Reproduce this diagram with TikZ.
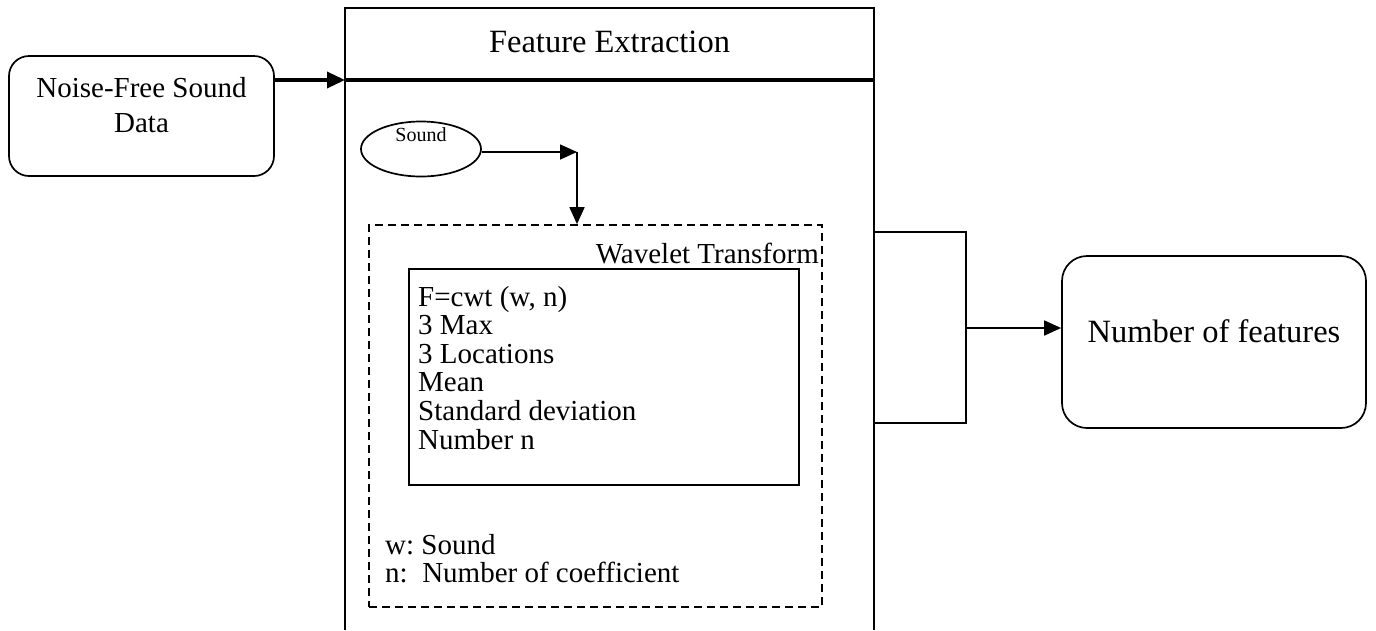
\documentclass[tikz,border=0pt]{standalone}
\usepackage{fontspec}
\setmainfont{Liberation Serif}
\usetikzlibrary{arrows.meta,shapes.geometric}
\frenchspacing
\begin{document}
\begin{tikzpicture}[x=1pt,y=-1pt,
  ln/.style={line width=1.7pt},
  roundbox/.style={draw, ln, rounded corners=20pt, inner sep=0pt},
  plainbox/.style={draw, ln, inner sep=0pt},
  txt/.style={font=\fontsize{29}{33}\selectfont, inner sep=0pt},
  bigtxt/.style={font=\fontsize{32.5}{36}\selectfont, inner sep=0pt},
  smalltxt/.style={font=\fontsize{20}{24}\selectfont, inner sep=0pt},
  arr/.style={ln, -{Triangle[length=17pt,width=15pt]}},
  heavyarr/.style={line width=3.5pt, -{Triangle[length=18pt,width=16pt]}},
]
\useasboundingbox (0,0) rectangle (1376,630);

% input block
\node[roundbox, minimum width=265pt, minimum height=120pt] (src) at (141.5,116) {};
\node[txt, anchor=base] (srcA) at (141.5,97) {Noise-Free Sound};
\node[txt, anchor=base] (srcB) at (141.5,132) {Data};

% feature extraction frame (open at the bottom)
\coordinate (feBL) at (345,630);
\coordinate (feTL) at (345,8);
\coordinate (feTR) at (874,8);
\coordinate (feBR) at (874,630);
\draw[ln] (feBL) -- (feTL) -- (feTR) -- (feBR);
\node[bigtxt, anchor=base] (fetitle) at (609.5,52) {Feature Extraction};
\coordinate (sepL) at (345,80);
\coordinate (sepR) at (874,80);
\draw[line width=3.5pt] (sepL) -- (sepR);
\draw[heavyarr] (src.east |- sepL) -- (sepL);

% sound source
\node[draw, ln, ellipse, minimum width=120pt, minimum height=55pt, inner sep=0pt] (snd) at (421,149) {};
\node[smalltxt, anchor=base] (sndt) at (421,141) {Sound};
\coordinate (bend) at (577,152);

% wavelet transform block
\node[draw, ln, dash pattern=on 8pt off 5pt, minimum width=453pt, minimum height=382pt, inner sep=0pt] (wt) at (595.5,416) {};
\node[txt, anchor=base east] (wtt) at (819,263) {Wavelet Transform};
\draw[arr] (snd.east |- bend) -- (bend);
\draw[arr] (bend) -- (bend |- wt.north);

\node[plainbox, minimum width=390pt, minimum height=216pt] (calc) at (604,377) {};
\node[txt, anchor=base west] (c1) at (418,306) {F=cwt (w, n)};
\node[txt, anchor=base west] (c2) at (418,334.6) {3 Max};
\node[txt, anchor=base west] (c3) at (418,363.2) {3 Locations};
\node[txt, anchor=base west] (c4) at (418,391.8) {Mean};
\node[txt, anchor=base west] (c5) at (418,420.4) {Standard deviation};
\node[txt, anchor=base west] (c6) at (418,449) {Number n};

\node[txt, anchor=base west] (k1) at (385,554) {w: Sound};
\node[txt, anchor=base west] (k2) at (385,582) {n:\ \ Number of coefficient};

% output collector and result
\coordinate (brT0) at (874,232);
\coordinate (brT) at (966,232);
\coordinate (brB) at (966,423);
\coordinate (brB0) at (874,423);
\draw[ln] (brT0) -- (brT) -- (brB) -- (brB0);
\coordinate (brM) at (966,328);
\node[roundbox, rounded corners=25pt, minimum width=304pt, minimum height=172pt] (out) at (1214,342) {};
\node[bigtxt, anchor=base] (outt) at (1214,342) {Number of features};
\draw[arr] (brM) -- (out.west |- brM);
\end{tikzpicture}
\end{document}
